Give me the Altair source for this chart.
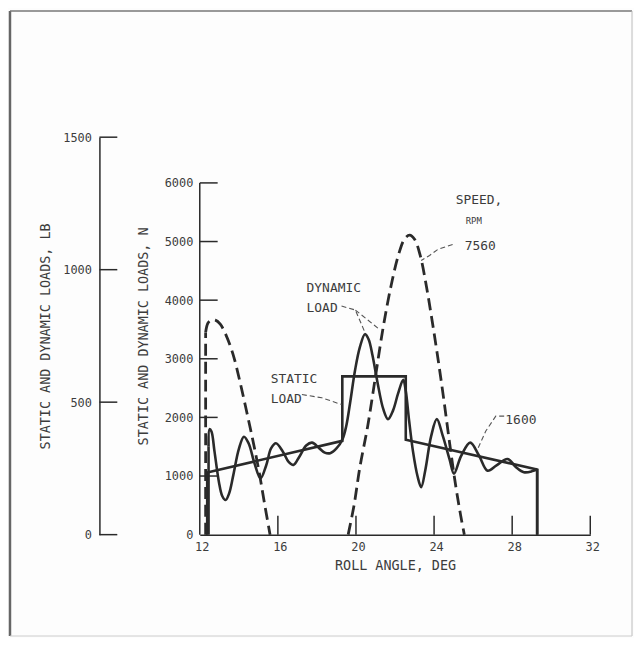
import altair as alt
import pandas as pd

# ---------------- data ----------------
# static load, N
static_x = [12.38, 12.38, 19.30, 19.30, 22.55, 22.55, 29.28, 29.28]
static_n = [0, 1060, 1600, 2700, 2700, 1620, 1110, 0]

# dynamic load at 1600 rpm, N (wavy part; it rises from 0 and drops to 0 at its ends)
dyn1600_x = [12.45, 12.50, 12.60, 12.75, 12.98, 13.15, 13.32, 13.50, 13.72,
             14.00, 14.26, 14.50, 14.80, 15.11, 15.40, 15.65, 15.90, 16.25, 16.55,
             16.80, 17.10, 17.45, 17.75, 18.10, 18.40, 18.68, 19.00, 19.30, 19.50,
             19.70, 19.95, 20.20, 20.46, 20.65, 20.85, 21.10, 21.40, 21.64, 21.90,
             22.15, 22.42, 22.55, 22.72, 22.92, 23.15, 23.34, 23.55, 23.85, 24.14,
             24.45, 24.79, 25.02, 25.38, 25.85, 26.30, 26.74, 27.20, 27.76, 28.20,
             28.60, 29.00, 29.28]
dyn1600_n = [1500, 1800, 1760, 1430, 900, 660, 590, 700, 1020,
             1460, 1670, 1560, 1220, 960, 1180, 1470, 1560, 1420, 1240,
             1190, 1330, 1520, 1570, 1480, 1400, 1390, 1470, 1620, 1850,
             2250, 2800, 3200, 3420, 3330, 3050, 2600, 2140, 1970, 2120,
             2400, 2640, 2450, 1950, 1420, 1000, 810, 1100, 1680, 1970,
             1680, 1290, 1040, 1340, 1570, 1350, 1090, 1180, 1290, 1150,
             1065, 1080, 1120]

# dynamic load at 7560 rpm, N (two visible humps; the first rises straight from 0)
dyn7560a_x = [12.30, 12.42, 12.60, 12.80, 13.05, 13.35, 13.70, 14.05, 14.40,
              14.75, 15.05, 15.30, 15.60]
dyn7560a_n = [3450, 3610, 3660, 3660, 3590, 3400, 3080, 2620, 2100,
              1560, 1050, 560, 0]
dyn7560b_x = [19.60, 19.90, 20.20, 20.60, 21.00, 21.40, 21.80, 22.20, 22.50, 22.75,
              23.00, 23.30, 23.60, 23.90, 24.20, 24.50, 24.80, 25.10, 25.35, 25.55]
dyn7560b_n = [0, 500, 1150, 1850, 2700, 3550, 4250, 4800, 5050, 5110,
              5040, 4750, 4250, 3650, 3000, 2300, 1550, 850, 350, 0]

x_ticks = [12, 16, 20, 24, 28, 32]
x_inner_ticks = [16, 20, 24, 28, 32]
n_ticks = [0, 1000, 2000, 3000, 4000, 5000, 6000]
n_inner_ticks = [1000, 2000, 3000, 4000, 5000, 6000]
lb_ticks = [0, 500, 1000, 1500]

label_text = ["SPEED,", "RPM", "7560", "DYNAMIC", "LOAD", "STATIC", "LOAD", "1600"]
label_x = [25.11, 25.62, 25.57, 17.47, 17.47, 15.63, 15.63, 27.65]
label_n = [5644, 5305, 4848, 4136, 3797, 2593, 2254, 1881]
label_size = [13, 9, 13, 13, 13, 13, 13, 13]

leader_id = ["a", "a", "a", "a", "b", "b", "b", "c", "c", "d", "d", "d",
             "e", "e", "e", "e", "e"]
leader_x = [24.95, 24.19, 23.77, 23.34, 19.26, 19.97, 20.47, 19.97, 21.24,
            17.23, 18.25, 19.26, 27.59, 27.16, 26.99, 26.65, 26.23]
leader_n = [4950, 4865, 4763, 4678, 3899, 3831, 3441, 3831, 3492,
            2390, 2334, 2220, 2022, 2022, 1937, 1768, 1458]

# ---------------- styling ----------------
W, H = 393, 400
N_TOP = 6780
INK = "#2a2a2a"
TXT = "#3c3c3c"
FONT = "DejaVu Sans Mono"

xs = alt.Scale(domain=[12, 32], nice=False, zero=False)
ns = alt.Scale(domain=[0, N_TOP], nice=False)
lbs = alt.Scale(domain=[0, 1500], nice=False)

common = dict(grid=False, ticks=False, labelFlush=False, labelFont=FONT,
              labelFontSize=12, labelColor=TXT, titleFont=FONT, titleFontSize=13.5,
              titleFontWeight="normal", titleColor=TXT, domainColor=INK,
              domainWidth=1.5, format="d")

x_axis = alt.Axis(values=x_ticks, title="ROLL ANGLE, DEG", labelPadding=7,
                  titlePadding=6, labelOffset=2, **common)
n_axis = alt.Axis(values=n_ticks, title="STATIC AND DYNAMIC LOADS, N", orient="left",
                  domain=False, labelPadding=7, titlePadding=14, **common)
lb_axis = alt.Axis(values=lb_ticks, title="STATIC AND DYNAMIC LOADS, LB",
                   orient="left", offset=101, domain=True, labelPadding=8,
                   titlePadding=10, **common)

X = alt.X("deg:Q", scale=xs, axis=x_axis)
Y = alt.Y("N:Q", scale=ns, axis=n_axis)


def line_df(xv, nv, seg="s"):
    return pd.DataFrame({"deg": xv, "N": nv, "i": list(range(len(xv))),
                         "seg": [seg] * len(xv)})


static_line = alt.Chart(line_df(static_x, static_n)).mark_line(
    color=INK, strokeWidth=2.6, strokeJoin="miter").encode(
    x=X, y=Y, order="i:Q")

dyn1600_line = alt.Chart(line_df(dyn1600_x, dyn1600_n)).mark_line(
    color=INK, strokeWidth=2.6, interpolate="catmull-rom").encode(
    x=X, y=Y, order="i:Q")

# straight vertical pieces at the ends of the curves
verts = pd.concat([
    line_df([dyn1600_x[0], dyn1600_x[0]], [0, dyn1600_n[0]], "v1"),
    line_df([dyn1600_x[-1], dyn1600_x[-1]], [dyn1600_n[-1], 0], "v2"),
])
vert_lines = alt.Chart(verts).mark_line(color=INK, strokeWidth=2.6).encode(
    x=X, y=Y, order="i:Q", detail="seg:N")

d7560 = pd.concat([line_df(dyn7560a_x, dyn7560a_n, "a"),
                   line_df(dyn7560b_x, dyn7560b_n, "b")])
dyn7560_line = alt.Chart(d7560).mark_line(
    color=INK, strokeWidth=2.8, strokeDash=[12, 6], interpolate="catmull-rom").encode(
    x=X, y=Y, order="i:Q", detail="seg:N")
dyn7560_vert = alt.Chart(line_df([dyn7560a_x[0], dyn7560a_x[0]],
                                 [0, dyn7560a_n[0]])).mark_line(
    color=INK, strokeWidth=2.8, strokeDash=[12, 6]).encode(x=X, y=Y, order="i:Q")

n_tick_rules = alt.Chart(pd.DataFrame({"N": n_inner_ticks})).mark_rule(
    color=INK, strokeWidth=1.5).encode(y=Y, x=alt.value(0), x2=alt.value(18))

n_domain_rule = alt.Chart(pd.DataFrame({"N": [0], "N2": [6000]})).mark_rule(
    color=INK, strokeWidth=1.5).encode(y=Y, y2=alt.Y2("N2:Q"), x=alt.value(0))

x_tick_rules = alt.Chart(pd.DataFrame({"deg": x_inner_ticks})).mark_rule(
    color=INK, strokeWidth=1.5).encode(x=X, y=alt.value(H), y2=alt.value(H - 19))

leaders = alt.Chart(pd.DataFrame({"deg": leader_x, "N": leader_n, "id": leader_id,
                                  "i": list(range(len(leader_x)))})).mark_line(
    color="#555555", strokeWidth=1.1, strokeDash=[5, 3]).encode(
    x=X, y=Y, detail="id:N", order="i:Q")

texts = alt.Chart(pd.DataFrame({"deg": label_x, "N": label_n, "t": label_text,
                                "fs": label_size})).mark_text(
    align="left", baseline="alphabetic", font=FONT, color=TXT).encode(
    x=X, y=Y, text="t:N", size=alt.Size("fs:Q", scale=None, legend=None))

one_row = pd.DataFrame({"k": [0]})


def px_rule(x1, x2, y1, y2, color, width):
    return alt.Chart(one_row).mark_rule(color=color, strokeWidth=width).encode(
        x=alt.value(x1), x2=alt.value(x2), y=alt.value(y1), y2=alt.value(y2))


frame = [
    px_rule(-191, -191, -127, 502, "#666666", 2.5),
    px_rule(-191, 435, -127, -127, "#777777", 1.5),
    px_rule(435, 435, -127, 502, "#bbbbbb", 1.0),
    px_rule(-191, 435, 502, 502, "#cccccc", 1.0),
]

n_group = alt.layer(static_line, dyn1600_line, vert_lines, dyn7560_line, dyn7560_vert,
                    n_tick_rules, n_domain_rule, x_tick_rules, leaders, texts, *frame)

lb_group = alt.Chart(pd.DataFrame({"lb": lb_ticks})).mark_rule(
    color=INK, strokeWidth=1.5).encode(
    y=alt.Y("lb:Q", scale=lbs, axis=lb_axis), x=alt.value(-101), x2=alt.value(-83))

chart = alt.layer(n_group, lb_group).resolve_scale(y="independent").properties(
    width=W, height=H,
    padding={"left": 193, "top": 128, "right": 44, "bottom": 102},
    autosize=alt.AutoSizeParams(type="none"),
    background="#fdfdfd",
).configure_view(stroke=None)

chart.save("out.html", embed_options={"renderer": "svg", "actions": False})
